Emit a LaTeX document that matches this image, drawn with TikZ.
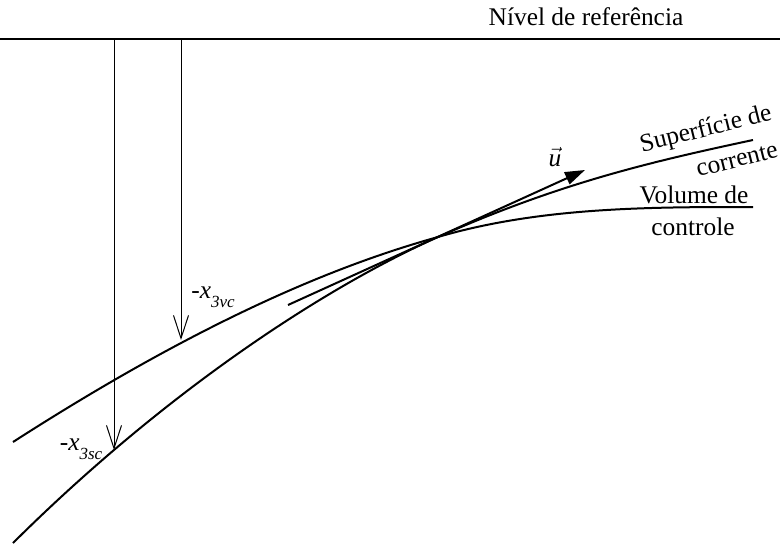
\documentclass[tikz,border=0pt]{standalone}
\usepackage{fontspec}
\setmainfont{Liberation Serif}
\usepackage{amsmath}
\usetikzlibrary{arrows.meta}
\newcommand{\lblfont}{\fontsize{12.7pt}{15pt}\selectfont}
\newcommand{\lowsub}[1]{\raisebox{-4.5pt}{\fontsize{8.5pt}{10pt}\selectfont\textit{#1}}}
\tikzset{
  curve/.style={draw=black,line width=1pt},
  depthline/.style={draw=black,line width=0.5pt,-{Straight Barb[length=11.5pt,width=7.5pt]}},
  lbl/.style={font=\lblfont,inner sep=0pt}
}

\begin{document}
\begin{tikzpicture}[x=0.5pt,y=0.5pt]
\useasboundingbox (0,0) rectangle (780,547);
% reference level:
\coordinate (refL) at (0,508);
\coordinate (refR) at (780,508);
\path[curve] (refL) -- (refR);
\node[lbl] (reflbl) at (586,530) {Nível de referência};
% control volume and stream surface:
\coordinate (vcA) at (13,105);
\coordinate (vcB) at (753,340);
\coordinate (scA) at (13,4);
\coordinate (scB) at (753,407);
\coordinate (cross) at (438,310);
\path[curve] (vcA) .. controls (195,222) and (330,280) .. (cross) .. controls (540,340) and (650,340) .. (vcB);
\path[curve] (scA) .. controls (170,160) and (330,262) .. (cross) .. controls (560,364) and (650,385) .. (scB);
% depths:
\coordinate (topsc) at (114,508);
\coordinate (tipsc) at (114,97);
\coordinate (topvc) at (181,508);
\coordinate (tipvc) at (181,207);
\path[depthline] (topsc) -- (tipsc);
\path[depthline] (topvc) -- (tipvc);
% velocity:
\coordinate (uA) at (288,242);
\coordinate (uB) at (585,377);
\path[curve,-{Triangle[length=10pt,width=6.5pt]}] (uA) -- (uB);
% labels:
\node[lbl] (xvc) at (213,250) {-\textit{x}\lowsub{3vc}};
\node[lbl] (xsc) at (81,98) {-\textit{x}\lowsub{3sc}};
\node[lbl] (ulbl) at (555,390) {$\vec{\textit{u}}$};
\node[lbl,rotate=14] (sclbl1) at (706,417) {Superfície de};
\node[lbl,rotate=14] (sclbl2) at (737,387) {corrente};
\node[lbl] (vclbl1) at (694,352) {Volume de};
\node[lbl] (vclbl2) at (693,320) {controle};
\end{tikzpicture}
\end{document}
